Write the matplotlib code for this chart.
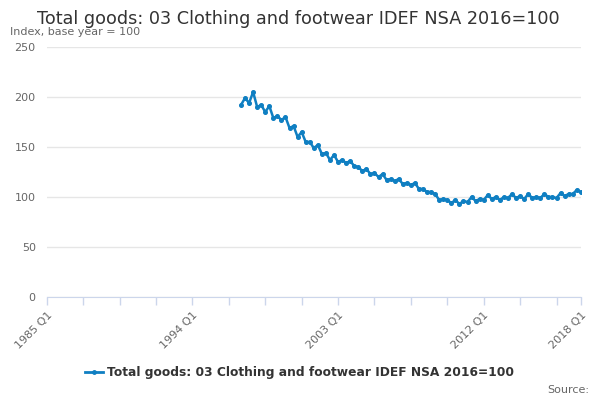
import numpy as np
import matplotlib
matplotlib.use("Agg")
from matplotlib import pyplot as plt
from matplotlib.lines import Line2D


## data, quarterly from 1997 Q1 to 2018 Q1
##------------------------------------------------------------------------

start_year = 1997
values = [192, 199, 194, 205, 190, 192, 185, 191, 179, 181,
          177, 180, 169, 171, 160, 165, 155, 155, 149, 152,
          143, 144, 137, 142, 135, 137, 134, 136, 131, 130,
          126, 128, 123, 124, 120, 123, 117, 118, 116, 118,
          113, 114, 112, 114, 108, 108, 105, 105, 103, 97,
          98, 97, 94, 97, 93, 96, 95, 100, 96, 98,
          97, 102, 98, 100, 97, 100, 99, 103, 99, 101,
          98, 103, 99, 100, 99, 103, 100, 100, 99, 104,
          101, 103, 103, 107, 105]

## ticks every 9 quarters from 1985 Q1, plus the last quarter
tick_years = [1985 + 2.25 * k for k in range(15)] + [2018]
label_years = [1985, 1994, 2003, 2012, 2018]
y_ticks = [0, 50, 100, 150, 200, 250]

title = "Total goods: 03 Clothing and footwear IDEF NSA 2016=100"
series_name = "Total goods: 03 Clothing and footwear IDEF NSA 2016=100"

line_color = "#0f7fc2"
axis_color = "#ccd6eb"
text_grey = "#666666"


if __name__ == "__main__":
  x = start_year + np.arange(len(values)) / 4.0

  fig = plt.figure(figsize=(6, 4), dpi=100)
  ax = fig.add_axes([0.078, 0.2575, 0.89, 0.625])

  ax.plot(x, values, color=line_color, lw=1.8, marker="o", ms=2.6, zorder=3)

  ax.set_xlim(1985, 2018)
  ax.set_ylim(0, 250)

  ## y axis, grid only
  ax.set_yticks(y_ticks)
  ax.set_yticklabels([str(v) for v in y_ticks], color=text_grey, fontsize=8)
  ax.tick_params(axis="y", length=0, pad=8)
  ax.grid(axis="y", color="#e6e6e6", lw=1)
  ax.set_axisbelow(True)

  ## x axis
  ax.set_xticks(tick_years)
  ax.set_xticklabels([f"{int(y)} Q1" if y in label_years else "" for y in tick_years],
                     rotation=45, ha="right", rotation_mode="anchor",
                     color=text_grey, fontsize=8)
  ax.tick_params(axis="x", length=6, color=axis_color, width=1)

  for s in ["left", "right", "top"]:
    ax.spines[s].set_visible(False)
  ax.spines["bottom"].set_color(axis_color)

  fig.text(0.497, 0.953, title, ha="center", va="center", fontsize=12.7, color="#333333")
  fig.text(0.017, 0.92, "Index, base year = 100", ha="left", va="center",
           fontsize=8, color=text_grey)

  handle = Line2D([], [], color=line_color, lw=2, marker="o", ms=2.5)
  fig.legend([handle], [series_name], loc="center", bbox_to_anchor=(0.5, 0.068),
             frameon=False, prop={"size": 8.8, "weight": "bold"},
             handlelength=1.4, handletextpad=0.4, labelcolor="#333333")

  fig.text(0.982, 0.025, "Source:", ha="right", va="center", fontsize=8, color=text_grey)

  fig.savefig("out.png", dpi=100)
